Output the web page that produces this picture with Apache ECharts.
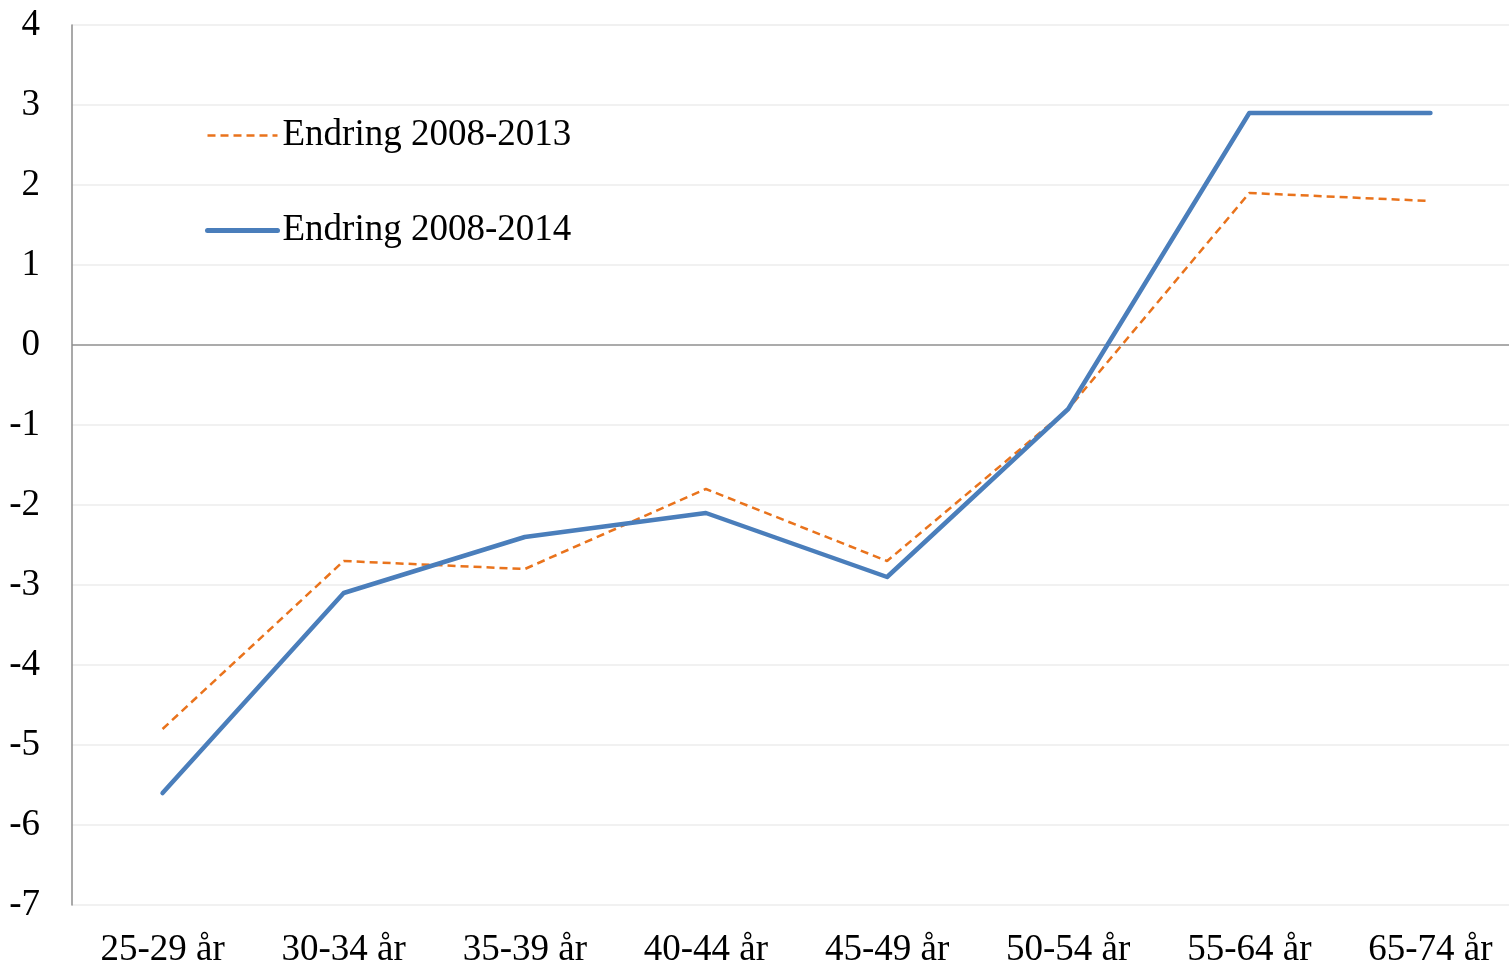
<!DOCTYPE html>
<html>
<head>
<meta charset="utf-8">
<script src="https://cdn.jsdelivr.net/npm/echarts@6/dist/echarts.min.js"></script>
<style>
  html, body { margin: 0; padding: 0; background: #fff; }
  #main { width: 1509px; height: 966px; }
</style>
</head>
<body>
<div id="main"></div>
<script>
// aldersgrupper
const categories = ['25-29 år', '30-34 år', '35-39 år', '40-44 år', '45-49 år', '50-54 år', '55-64 år', '65-74 år'];
const endring2013 = [-4.8, -2.7, -2.8, -1.8, -2.7, -0.8, 1.9, 1.8];
const endring2014 = [-5.6, -3.1, -2.4, -2.1, -2.9, -0.8, 2.9, 2.9];
const yTicks = [-7, -6, -5, -4, -3, -2, -1, 0, 1, 2, 3, 4];

const font = "'Liberation Serif', 'Times New Roman', serif";

// gridline colours, the 0-line is darker
const gridColors = yTicks.map(v => v === 0 ? '#8f8f8f' : '#ececec');

const chart = echarts.init(document.getElementById('main'), null, { renderer: 'canvas' });

const option = {
  animation: false,
  backgroundColor: '#fff',
  grid: {
    left: 72,
    top: 25,
    width: 1449,
    bottom: 61,
    outerBoundsMode: 'none'
  },
  legend: {
    orient: 'vertical',
    left: 200,
    top: 112,
    itemWidth: 70,
    itemHeight: 14,
    itemGap: 58,
    itemStyle: { opacity: 0 },
    textStyle: {
      fontFamily: font,
      fontSize: 37,
      color: '#000'
    },
    data: [
      { name: 'Endring 2008-2013', lineStyle: { width: 2.5 } },
      { name: 'Endring 2008-2014', lineStyle: { width: 5 } }
    ]
  },
  xAxis: {
    type: 'category',
    data: categories,
    boundaryGap: true,
    axisLine: { show: false },
    axisTick: { show: false },
    axisLabel: {
      margin: 27,
      fontFamily: font,
      fontSize: 37,
      color: '#000'
    }
  },
  yAxis: {
    type: 'value',
    min: yTicks[0],
    max: yTicks[yTicks.length - 1],
    interval: 1,
    axisLine: { show: true, lineStyle: { color: '#8c8c8c', width: 1.5 } },
    axisTick: { show: false },
    axisLabel: {
      margin: 32,
      fontFamily: font,
      fontSize: 37,
      color: '#000',
      padding: [10, 0, 0, 0]
    },
    splitLine: {
      show: true,
      lineStyle: { color: gridColors, width: 1.5 }
    }
  },
  series: [
    {
      name: 'Endring 2008-2013',
      type: 'line',
      data: endring2013,
      symbol: 'none',
      lineStyle: { color: '#E9731C', width: 2.5, type: [8, 5] },
      itemStyle: { color: '#E9731C' }
    },
    {
      name: 'Endring 2008-2014',
      type: 'line',
      data: endring2014,
      symbol: 'none',
      lineStyle: { color: '#4A7EBB', width: 4.5, cap: 'round', join: 'round' },
      itemStyle: { color: '#4A7EBB' }
    }
  ]
};

chart.setOption(option);
</script>
</body>
</html>
